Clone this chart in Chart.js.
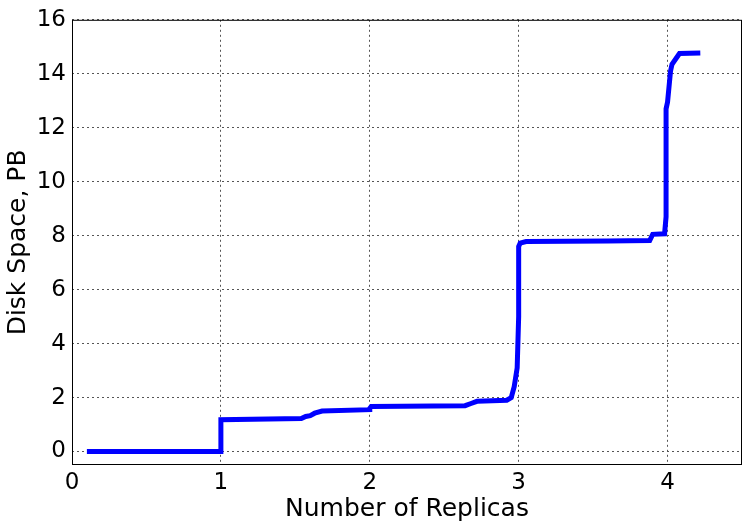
<!DOCTYPE html>
<html>
<head>
<meta charset="utf-8">
<script src="https://cdn.jsdelivr.net/npm/chart.js@4/dist/chart.umd.min.js"></script>
<style>
  body { margin: 0; background: #fff; }
</style>
</head>
<body>
<canvas id="replicas" width="748" height="529"></canvas>
<script>
// number of replicas (x) vs cumulative disk space in PB (y)
const replicas = [0.1, 1.0, 1.0, 1.54, 1.57, 1.6, 1.63, 1.68, 2.0, 2.0, 2.01, 2.64, 2.68, 2.72, 2.92, 2.95, 2.97, 2.99, 3.0, 3.0, 3.01, 3.05, 3.6, 3.88, 3.9, 3.98, 3.99, 3.99, 4.0, 4.02, 4.03, 4.08, 4.22];
const diskSpace = [0, 0, 1.18, 1.22, 1.3, 1.33, 1.42, 1.5, 1.55, 1.6, 1.67, 1.7, 1.78, 1.86, 1.9, 2.0, 2.4, 3.1, 5.0, 7.6, 7.72, 7.78, 7.8, 7.82, 8.05, 8.07, 8.7, 12.7, 12.95, 14.1, 14.35, 14.75, 14.77];
const xTicks = [0, 1, 2, 3, 4];
const yTicks = [0, 2, 4, 6, 8, 10, 12, 14, 16];

const ctx = document.getElementById('replicas');
const tickFont = { family: 'DejaVu Sans', size: 23, lineHeight: 1.2 };
const titleFont = { family: 'DejaVu Sans', size: 25, lineHeight: 1.2 };

const frame = {
    id: 'frame',
    afterDraw(chart) {
        const a = chart.chartArea, c = chart.ctx;
        c.save();
        c.strokeStyle = '#000';
        c.lineWidth = 1;
        c.strokeRect(a.left + 0.5, a.top + 0.5, a.right - a.left - 1, a.bottom - a.top - 1);
        c.restore();
    }
};

new Chart(ctx, {
    type: 'line',
    data: {
        datasets: [{
            data: replicas.map((x, i) => ({ x: x, y: diskSpace[i] })),
            borderColor: '#0000ff',
            borderWidth: 5,
            pointRadius: 0,
            tension: 0,
            fill: false
        }]
    },
    options: {
        responsive: false,
        animation: false,
        layout: { padding: { top: 18, right: 6, left: 0, bottom: 0 } },
        plugins: { legend: { display: false }, tooltip: { enabled: false } },
        scales: {
            x: {
                type: 'linear',
                min: 0, max: 4.5,
                afterBuildTicks: s => { s.ticks = xTicks.map(v => ({ value: v })); },
                afterFit: s => { s.height = 64; },
                ticks: { color: '#000', font: tickFont, padding: 4, maxRotation: 0 },
                grid: { color: '#555', borderDash: [2, 3], drawTicks: false, tickLength: 0 },
                border: { display: false, dash: [2, 3] },
                title: { display: true, text: 'Number of Replicas', color: '#000', font: titleFont, padding: { top: 0, bottom: 5 } }
            },
            y: {
                min: -0.5, max: 16,
                afterBuildTicks: s => { s.ticks = yTicks.map(v => ({ value: v })); },
                afterFit: s => { s.width = 72; },
                ticks: { color: '#000', font: tickFont, padding: 6 },
                grid: { color: '#555', drawTicks: false, tickLength: 0 },
                border: { display: false, dash: [2, 3] },
                title: { display: true, text: 'Disk Space, PB', color: '#000', font: titleFont, padding: { top: 3, bottom: 0 } }
            }
        }
    },
    plugins: [frame]
});
</script>
</body>
</html>
